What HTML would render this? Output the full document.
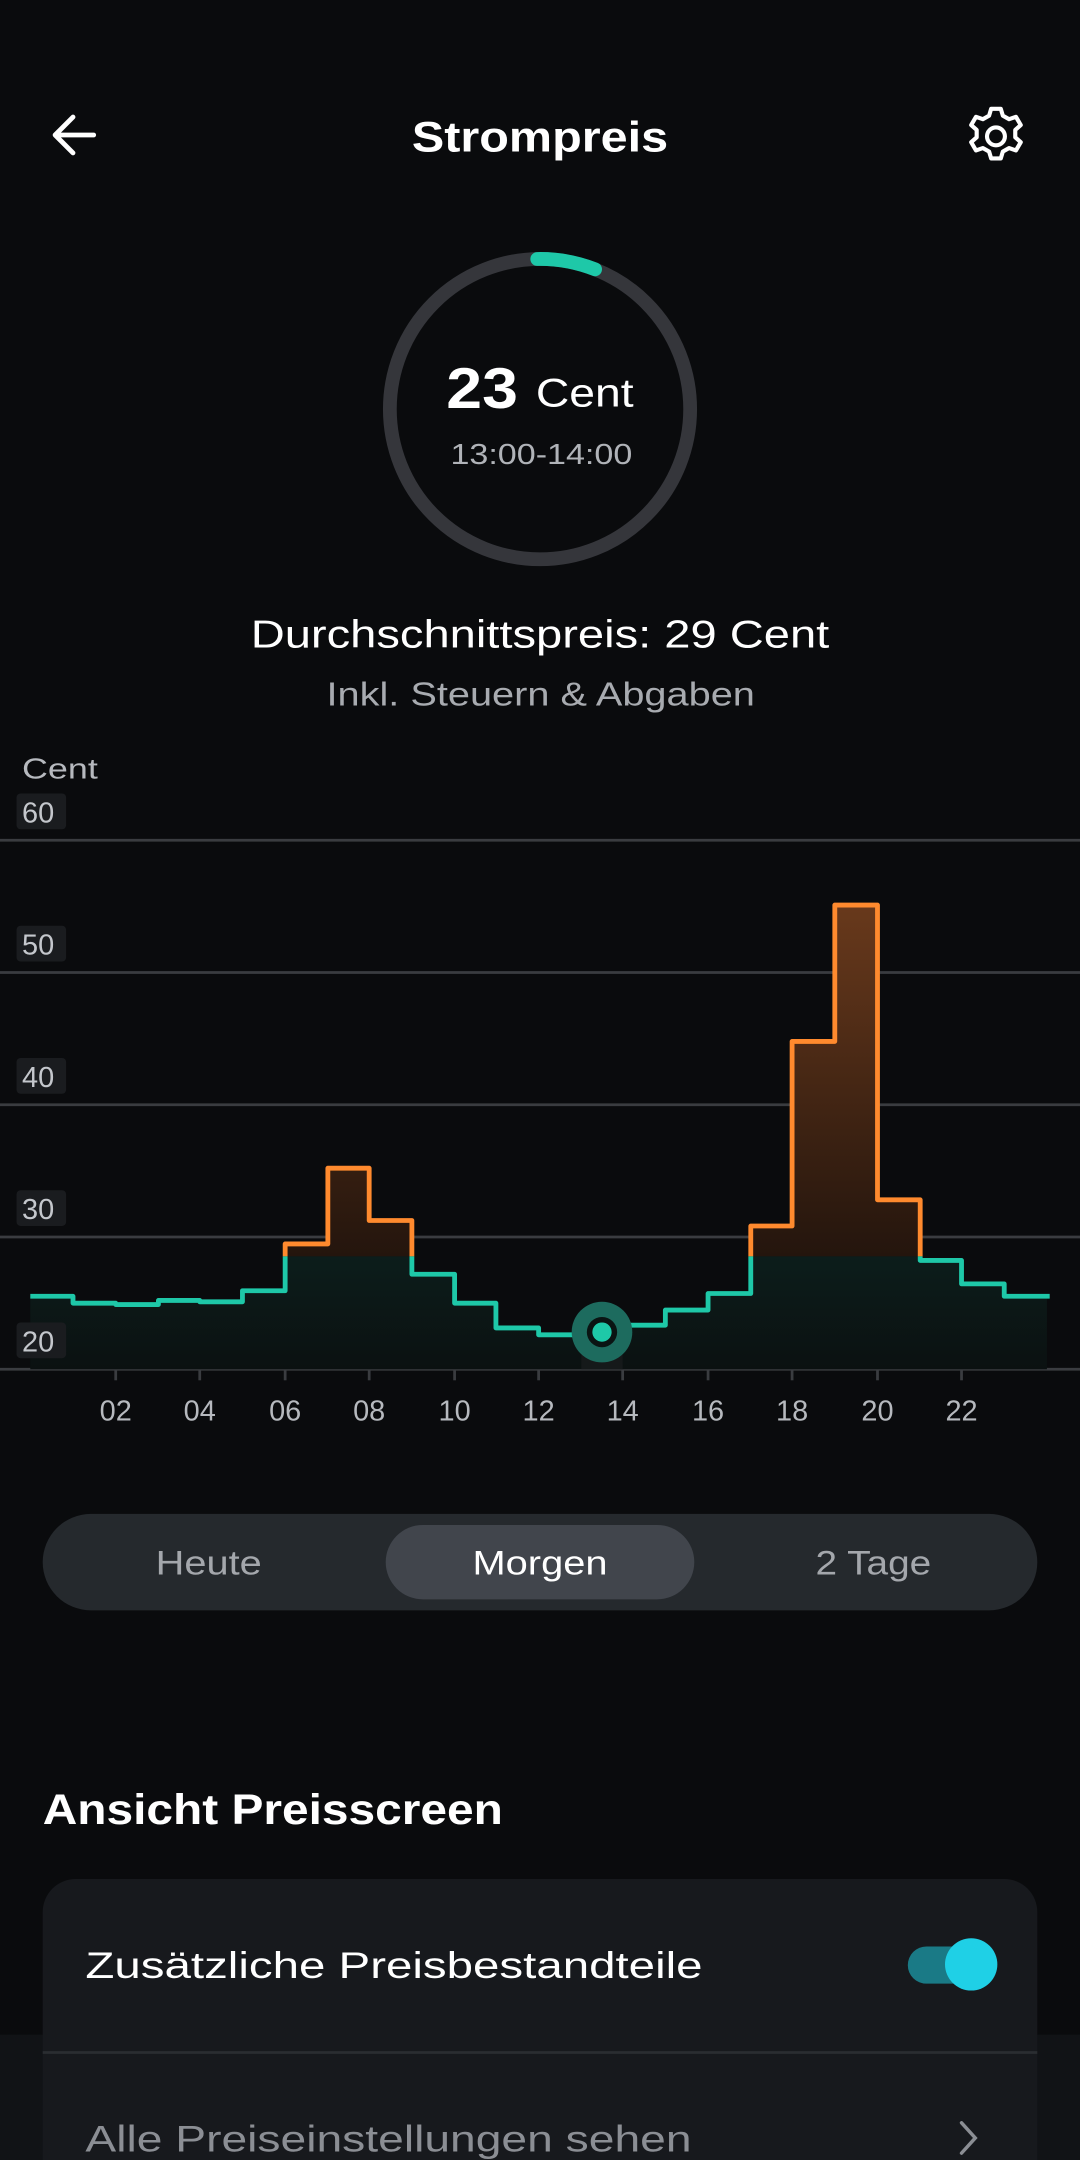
<!DOCTYPE html>
<html><head><meta charset="utf-8"><style>
html,body{margin:0;padding:0;background:#0a0b0d;}
svg{display:block;}
text{font-family:"Liberation Sans",sans-serif;}
</style></head><body>
<svg width="1080" height="2160" viewBox="0 0 784 1568" xmlns="http://www.w3.org/2000/svg">
<defs>
<linearGradient id="og" x1="0" y1="650" x2="0" y2="912" gradientUnits="userSpaceOnUse">
<stop offset="0" stop-color="#6a3a1c"/><stop offset="1" stop-color="#24150d"/></linearGradient>
<linearGradient id="tg" x1="0" y1="912" x2="0" y2="994" gradientUnits="userSpaceOnUse">
<stop offset="0" stop-color="#0c1d1b"/><stop offset="1" stop-color="#0b1111"/></linearGradient>
<clipPath id="top"><rect x="0" y="0" width="784" height="912"/></clipPath>
<clipPath id="bot"><rect x="0" y="912" width="784" height="200"/></clipPath>
</defs>
<rect width="784" height="1568" fill="#0a0b0d"/>
<rect y="1477" width="784" height="91" fill="#111316"/>
<!-- header -->
<path d="M68 98 H40 M53 85 L40 98 L53 111" stroke="#fff" stroke-width="3.5" fill="none" stroke-linecap="round" stroke-linejoin="round"/>
<text x="299" y="110" textLength="186" lengthAdjust="spacingAndGlyphs" fill="#fff" font-size="31" font-weight="bold">Strompreis</text>
<g transform="translate(723,99)" fill="none" stroke="#fff" stroke-width="3">
<circle r="6.5"/>
<path d="M-3.5 -20 h7 l1.5 5 l4.5 2.5 l5 -1.7 l3.5 6 l-4 3.5 v5.4 l4 3.5 l-3.5 6 l-5 -1.7 l-4.5 2.5 l-1.5 5 h-7 l-1.5 -5 l-4.5 -2.5 l-5 1.7 l-3.5 -6 l4 -3.5 v-5.4 l-4 -3.5 l3.5 -6 l5 1.7 l4.5 -2.5 z" stroke-linejoin="round"/>
</g>
<!-- gauge -->
<circle cx="392" cy="297" r="109" fill="none" stroke="#35363b" stroke-width="10"/>
<path d="M390 188 A109 109 0 0 1 432 195.5" fill="none" stroke="#1ec8a8" stroke-width="10" stroke-linecap="round"/>
<text x="324" y="296" textLength="52" lengthAdjust="spacingAndGlyphs" fill="#fff" font-size="42" font-weight="bold">23</text>
<text x="389" y="295" textLength="71" lengthAdjust="spacingAndGlyphs" fill="#fff" font-size="29">Cent</text>
<text x="327" y="337" textLength="132" lengthAdjust="spacingAndGlyphs" fill="#b0b3b8" font-size="21">13:00-14:00</text>
<text x="182" y="470" textLength="420" lengthAdjust="spacingAndGlyphs" fill="#fff" font-size="28">Durchschnittspreis: 29 Cent</text>
<text x="237" y="512" textLength="311" lengthAdjust="spacingAndGlyphs" fill="#a8abb0" font-size="24">Inkl. Steuern &amp; Abgaben</text>
<!-- chart -->
<text x="16" y="565" textLength="55" lengthAdjust="spacingAndGlyphs" fill="#b6b9be" font-size="21">Cent</text>
<g stroke="#3a3c40" stroke-width="2">
<line x1="0" y1="610" x2="784" y2="610"/><line x1="0" y1="706" x2="784" y2="706"/>
<line x1="0" y1="802" x2="784" y2="802"/><line x1="0" y1="898" x2="784" y2="898"/>
<line x1="0" y1="994" x2="784" y2="994"/></g>
<g stroke="#3a3c40" stroke-width="2">
<line x1="84" y1="994" x2="84" y2="1002"/><line x1="145" y1="994" x2="145" y2="1002"/><line x1="207" y1="994" x2="207" y2="1002"/>
<line x1="268" y1="994" x2="268" y2="1002"/><line x1="330" y1="994" x2="330" y2="1002"/><line x1="391" y1="994" x2="391" y2="1002"/>
<line x1="452" y1="994" x2="452" y2="1002"/><line x1="514" y1="994" x2="514" y2="1002"/><line x1="575" y1="994" x2="575" y2="1002"/>
<line x1="637" y1="994" x2="637" y2="1002"/><line x1="698" y1="994" x2="698" y2="1002"/></g>
<g fill="#b6b9be" font-size="21" text-anchor="middle">
<text x="84" y="1031">02</text><text x="145" y="1031">04</text><text x="207" y="1031">06</text><text x="268" y="1031">08</text>
<text x="330" y="1031">10</text><text x="391" y="1031">12</text><text x="452" y="1031">14</text><text x="514" y="1031">16</text>
<text x="575" y="1031">18</text><text x="637" y="1031">20</text><text x="698" y="1031">22</text></g>
<path clip-path="url(#top)" fill="url(#og)" d="M22 994 V941 H53 V946 H84 V947 H115 V944 H145 V945 H176 V937 H207 V903 H238 V848 H268 V886 H299 V925 H330 V946 H360 V964 H391 V969 H422 V966 H452 V962 H483 V951 H514 V939 H545 V890 H575 V756 H606 V657 H637 V871 H668 V915 H698 V932 H729 V941 H760 V994 Z"/>
<path clip-path="url(#bot)" fill="url(#tg)" d="M22 994 V941 H53 V946 H84 V947 H115 V944 H145 V945 H176 V937 H207 V903 H238 V848 H268 V886 H299 V925 H330 V946 H360 V964 H391 V969 H422 V966 H452 V962 H483 V951 H514 V939 H545 V890 H575 V756 H606 V657 H637 V871 H668 V915 H698 V932 H729 V941 H760 V994 Z"/>
<rect x="422" y="966" width="30" height="28" fill="#15191a"/>
<g fill="#1a1c1f">
<rect x="12" y="576" width="36" height="26" rx="3"/><rect x="12" y="672" width="36" height="26" rx="3"/>
<rect x="12" y="768" width="36" height="26" rx="3"/><rect x="12" y="864" width="36" height="26" rx="3"/>
<rect x="12" y="960" width="36" height="26" rx="3"/></g>
<g fill="#c4c7cc" font-size="21">
<text x="16" y="597">60</text><text x="16" y="693">50</text><text x="16" y="789">40</text><text x="16" y="885">30</text><text x="16" y="981">20</text></g>
<path clip-path="url(#top)" fill="none" stroke="#ff8a2e" stroke-width="3.5" stroke-linejoin="round" d="M22 941 H53 V946 H84 V947 H115 V944 H145 V945 H176 V937 H207 V903 H238 V848 H268 V886 H299 V925 H330 V946 H360 V964 H391 V969 H422 V966 H452 V962 H483 V951 H514 V939 H545 V890 H575 V756 H606 V657 H637 V871 H668 V915 H698 V932 H729 V941 H762"/>
<path clip-path="url(#bot)" fill="none" stroke="#1ec8a8" stroke-width="3.5" stroke-linejoin="round" d="M22 941 H53 V946 H84 V947 H115 V944 H145 V945 H176 V937 H207 V903 H238 V848 H268 V886 H299 V925 H330 V946 H360 V964 H391 V969 H422 V966 H452 V962 H483 V951 H514 V939 H545 V890 H575 V756 H606 V657 H637 V871 H668 V915 H698 V932 H729 V941 H762"/>
<circle cx="437" cy="967" r="22" fill="#1d6b5e"/>
<circle cx="437" cy="967" r="11" fill="#0a1413"/>
<circle cx="437" cy="967" r="7" fill="#1ec8a8"/>
<!-- segmented -->
<rect x="31" y="1099" width="722" height="70" rx="35" fill="#25292d"/>
<rect x="280" y="1107" width="224" height="54" rx="27" fill="#41454c"/>
<text x="113" y="1143" textLength="77" lengthAdjust="spacingAndGlyphs" fill="#a4a7ac" font-size="25">Heute</text>
<text x="343" y="1143" textLength="98" lengthAdjust="spacingAndGlyphs" fill="#fff" font-size="25">Morgen</text>
<text x="592" y="1143" textLength="84" lengthAdjust="spacingAndGlyphs" fill="#a4a7ac" font-size="25">2 Tage</text>
<!-- settings -->
<text x="31" y="1324" textLength="334" lengthAdjust="spacingAndGlyphs" fill="#fff" font-size="31" font-weight="bold">Ansicht Preisscreen</text>
<path d="M31 1568 V1388 A24 24 0 0 1 55 1364 H729 A24 24 0 0 1 753 1388 V1568 Z" fill="#17191d"/>
<line x1="31" y1="1490" x2="753" y2="1490" stroke="#2a2d31" stroke-width="2"/>
<text x="62" y="1436" textLength="448" lengthAdjust="spacingAndGlyphs" fill="#fff" font-size="27">Zusätzliche Preisbestandteile</text>
<rect x="659" y="1413" width="50" height="27" rx="13.5" fill="#1a7a86"/>
<circle cx="705" cy="1426" r="19" fill="#1fd0e6"/>
<text x="62" y="1562" textLength="440" lengthAdjust="spacingAndGlyphs" fill="#8b8e94" font-size="27">Alle Preiseinstellungen sehen</text>
<path d="M698 1541 L708 1552 L698 1563" fill="none" stroke="#8b8e94" stroke-width="2.5" stroke-linecap="round"/>
</svg>
</body></html>
